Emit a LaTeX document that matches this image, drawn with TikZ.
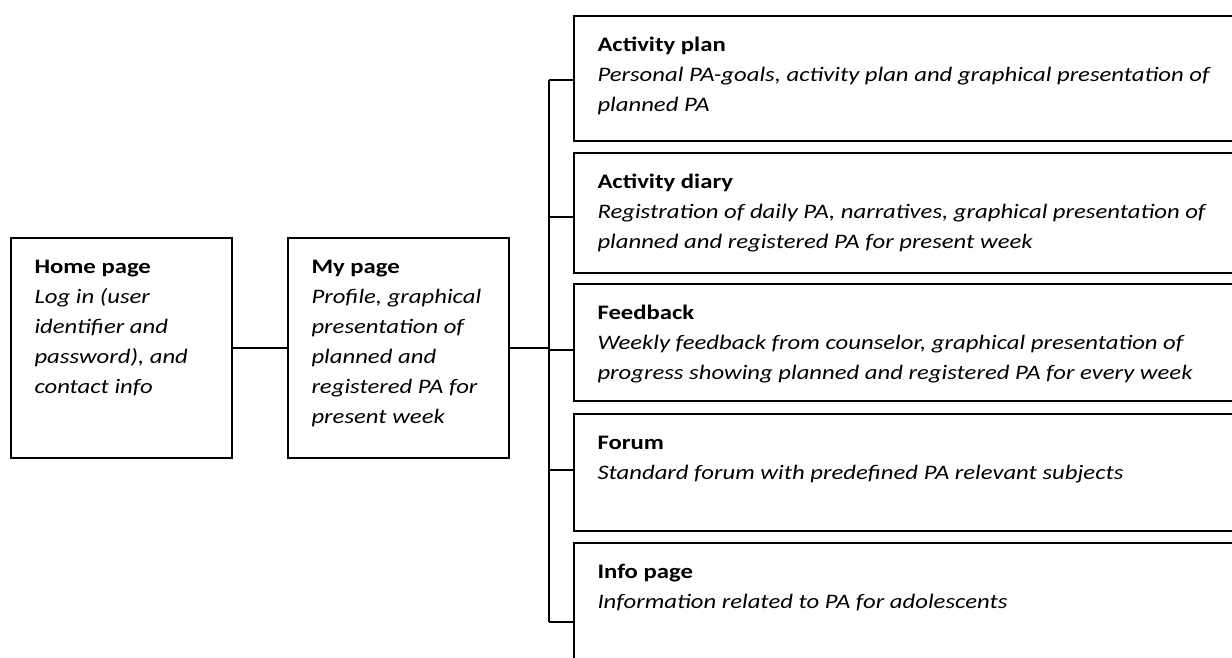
\documentclass[tikz,border=0pt]{standalone}
\usepackage{fontspec}
\setmainfont{Carlito}[FakeStretch=1.2]
\usetikzlibrary{positioning}

\begin{document}
\begin{tikzpicture}[x=1pt,y=-1pt,line width=2pt,
  page/.style={draw,rectangle,inner sep=0pt,minimum width=221pt,minimum height=220pt},
  subpage/.style={draw,rectangle,inner sep=0pt,anchor=north west,minimum width=687pt},
  pagetext/.style={anchor=north west,inner sep=0pt,align=left,xshift=23.5pt,yshift=-14pt,
    font=\fontsize{20.6}{30}\selectfont}]
\useasboundingbox (0,0) rectangle (1232,657);
\clip (0,0) rectangle (1232,657);
% left column
\node[page] (home) at (121.5,348) {};
\node[page,right=54pt of home] (mypage) {};
\node[pagetext] (hometext) at (home.north west) {\strut\textbf{Home page}\\ \itshape Log in (user\\ \itshape identifier and\\ \itshape password), and\\ \itshape contact info};
\node[pagetext] (mytext) at (mypage.north west) {\strut\textbf{My page}\\ \itshape Profile, graphical\\ \itshape presentation of\\ \itshape planned and\\ \itshape registered PA for\\ \itshape present week};
% right column, cut at the border
\node[subpage,minimum height=125pt] (plan) at (573,15) {};
\node[subpage,minimum height=120pt] (diary) at (573,152) {};
\node[subpage,minimum height=117pt] (feedback) at (573,283) {};
\node[subpage,minimum height=117pt] (forum) at (573,413) {};
\node[subpage,minimum height=140pt] (info) at (573,542) {};
\node[pagetext] (plantext) at (plan.north west) {\strut\textbf{Activity plan}\\ \itshape Personal PA-goals, activity plan and graphical presentation of\\ \itshape planned PA};
\node[pagetext] (diarytext) at (diary.north west) {\strut\textbf{Activity diary}\\ \itshape Registration of daily PA, narratives, graphical presentation of\\ \itshape planned and registered PA for present week};
\node[pagetext] (feedbacktext) at (feedback.north west) {\strut\textbf{Feedback}\\ \itshape Weekly feedback from counselor, graphical presentation of\\ \itshape progress showing planned and registered PA for every week};
\node[pagetext] (forumtext) at (forum.north west) {\strut\textbf{Forum}\\ \itshape Standard forum with predefined PA relevant subjects};
\node[pagetext] (infotext) at (info.north west) {\strut\textbf{Info page}\\ \itshape Information related to PA for adolescents};
% connectors
\coordinate (bus plan) at (549,80);
\coordinate (bus diary) at (549,217);
\coordinate (bus feedback) at (549,350);
\coordinate (bus forum) at (549,470);
\coordinate (bus info) at (549,622);
\draw (home) -- (mypage);
\draw (mypage.east) -- (mypage.east -| bus plan);
\draw (bus plan) -- (bus info);
\foreach \p in {plan,diary,feedback,forum,info}
  \draw (bus \p) -- (bus \p -| \p.west);
\end{tikzpicture}
\end{document}
